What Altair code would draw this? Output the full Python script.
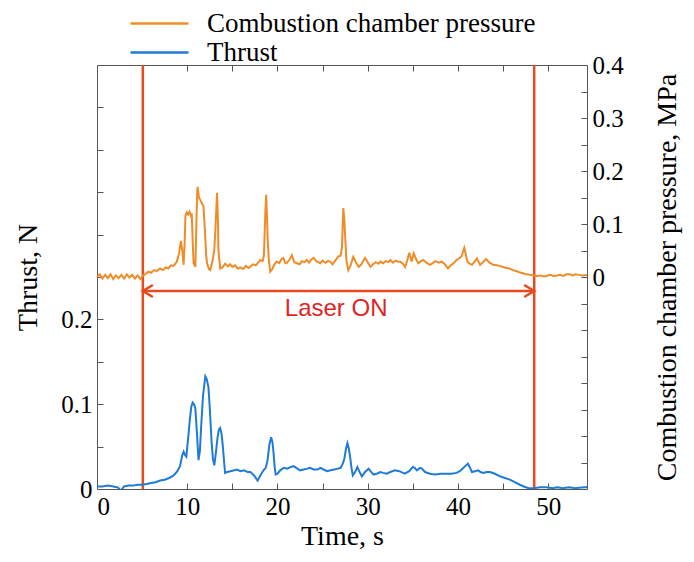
import altair as alt
import pandas as pd

# ---------------- data ----------------
thrust_time = [0, 0.6, 1.2, 1.8, 2.3, 2.65, 3.0, 3.5, 4.0, 4.5, 5.0, 5.5, 6.0, 6.5, 7.0, 7.5, 8.0, 8.5,
               8.9, 9.2, 9.45, 9.6, 9.75, 9.9, 10.1, 10.3, 10.45, 10.6, 10.75, 10.9, 11.05, 11.25, 11.4,
               11.55, 11.75, 12.0, 12.15, 12.35, 12.5, 12.7, 12.85, 13.0, 13.2, 13.35, 13.5, 13.65, 13.8,
               13.95, 14.1, 14.2, 14.4, 14.8, 15.2, 15.5, 15.9, 16.3, 16.7, 17.0, 17.4, 17.8, 18.1, 18.45,
               18.7, 18.9, 19.1, 19.3, 19.45, 19.55, 19.7, 19.8, 20.0, 20.3, 20.7, 21.1, 21.5, 21.8, 22.2,
               22.5, 22.9, 23.3, 23.6, 24.0, 24.4, 24.8, 25.1, 25.5, 25.9, 26.3, 26.7, 27.0, 27.2, 27.4,
               27.6, 27.75, 27.9, 28.05, 28.2, 28.35, 28.6, 28.85, 29.1, 29.35, 29.7, 30.1, 30.4, 30.65,
               31.0, 31.4, 31.7, 32.1, 32.5, 33.0, 33.5, 34.1, 34.6, 35.0, 35.2, 35.45, 35.8, 36.0, 36.35,
               36.9, 37.45, 38.1, 38.75, 39.3, 39.85, 40.2, 40.5, 40.8, 41.1, 41.3, 41.55, 41.9, 42.25,
               42.5, 42.8, 43.2, 43.55, 44.1, 44.65, 45.2, 45.75, 46.3, 46.85, 47.3, 47.8, 48.45, 49.1,
               49.8, 50.5, 51.0, 51.6, 52.3, 53.0, 53.4, 54.0, 54.3]
thrust_value = [0.003, 0.003, 0.004, 0.003, 0.002, -0.002, 0.003, 0.004, 0.004, 0.005, 0.005, 0.006,
                0.007, 0.008, 0.010, 0.011, 0.013, 0.016, 0.021, 0.027, 0.040, 0.044, 0.040, 0.038,
                0.060, 0.083, 0.097, 0.102, 0.100, 0.095, 0.070, 0.034, 0.045, 0.075, 0.110, 0.133,
                0.130, 0.120, 0.095, 0.055, 0.035, 0.028, 0.045, 0.060, 0.070, 0.072, 0.065, 0.050,
                0.030, 0.019, 0.020, 0.021, 0.022, 0.023, 0.021, 0.022, 0.020, 0.020, 0.016, 0.010,
                0.016, 0.022, 0.025, 0.034, 0.052, 0.061, 0.055, 0.044, 0.025, 0.017, 0.018, 0.022,
                0.025, 0.024, 0.026, 0.027, 0.024, 0.022, 0.023, 0.024, 0.025, 0.023, 0.023, 0.025,
                0.023, 0.021, 0.022, 0.023, 0.024, 0.025, 0.029, 0.035, 0.048, 0.054, 0.048, 0.038,
                0.025, 0.016, 0.020, 0.026, 0.020, 0.015, 0.020, 0.024, 0.020, 0.017, 0.018, 0.020,
                0.019, 0.018, 0.020, 0.022, 0.021, 0.018, 0.021, 0.026, 0.025, 0.022, 0.025, 0.024,
                0.020, 0.018, 0.017, 0.018, 0.018, 0.018, 0.019, 0.021, 0.024, 0.027, 0.030, 0.026,
                0.020, 0.021, 0.022, 0.020, 0.019, 0.020, 0.020, 0.018, 0.015, 0.013, 0.011, 0.008,
                0.005, 0.003, 0.001, 0.001, 0.002, 0.002, 0.001, 0.002, 0.001, 0.002, 0.001, 0.0015,
                0.002, 0.002]

pressure_time = [0, 0.3, 0.6, 0.9, 1.2, 1.5, 1.8, 2.1, 2.4, 2.7, 3.0, 3.3, 3.6, 3.9, 4.2, 4.5, 4.8, 5.1,
                 5.4, 5.7, 6.0, 6.3, 6.6, 7.0, 7.3, 7.6, 7.9, 8.2, 8.5, 8.85, 9.1, 9.3, 9.45, 9.6, 9.7,
                 9.8, 9.95, 10.1, 10.25, 10.4, 10.5, 10.6, 10.7, 10.9, 11.0, 11.1, 11.15, 11.3, 11.45,
                 11.6, 11.8, 11.95, 12.1, 12.2, 12.4, 12.55, 12.8, 13.0, 13.15, 13.3, 13.4, 13.45, 13.65,
                 13.9, 14.2, 14.5, 14.75, 15.0, 15.3, 15.6, 15.9, 16.2, 16.5, 16.8, 17.0, 17.3, 17.6,
                 17.9, 18.1, 18.35, 18.5, 18.65, 18.75, 18.85, 18.9, 19.05, 19.2, 19.4, 19.6, 19.9,
                 20.2, 20.45, 20.65, 20.85, 21.0, 21.3, 21.6, 21.85, 22.15, 22.45, 22.7, 23.0, 23.25,
                 23.5, 23.75, 24.0, 24.3, 24.5, 24.75, 25.0, 25.3, 25.6, 25.85, 26.1, 26.4, 26.75, 27.0,
                 27.15, 27.25, 27.3, 27.4, 27.5, 27.65, 27.85, 28.1, 28.4, 28.7, 29.0, 29.3, 29.7, 30.0,
                 30.3, 30.6, 30.9, 31.2, 31.4, 31.7, 32.0, 32.3, 32.5, 32.8, 33.1, 33.4, 33.6, 33.9,
                 34.15, 34.4, 34.6, 34.85, 35.1, 35.35, 35.6, 35.9, 36.15, 36.5, 36.9, 37.2, 37.5, 37.9,
                 38.2, 38.55, 38.9, 39.2, 39.5, 39.85, 40.1, 40.4, 40.7, 40.9, 41.05, 41.3, 41.55, 41.8,
                 42.1, 42.3, 42.45, 42.8, 43.1, 43.5, 43.9, 44.3, 44.6, 45.0, 45.4, 45.7, 46.1, 46.5,
                 46.8, 47.2, 47.6, 48.0, 48.45, 48.8, 49.2, 49.5, 49.8, 50.2, 50.6, 51.0, 51.3, 51.7,
                 52.0, 52.4, 52.7, 53.0, 53.4, 53.8, 54.3]
pressure_value = [0.000, 0.005, -0.003, 0.004, -0.002, 0.005, -0.004, 0.003, -0.002, 0.004, -0.003,
                  0.005, -0.001, 0.004, -0.003, 0.003, -0.004, 0.003, 0.006, 0.010, 0.008, 0.013, 0.011,
                  0.016, 0.013, 0.018, 0.016, 0.022, 0.021, 0.029, 0.045, 0.068, 0.050, 0.023, 0.060,
                  0.115, 0.122, 0.118, 0.123, 0.116, 0.120, 0.070, 0.026, 0.019, 0.090, 0.160, 0.170,
                  0.150, 0.145, 0.140, 0.133, 0.090, 0.040, 0.026, 0.015, 0.013, 0.030, 0.051, 0.100,
                  0.159, 0.110, 0.051, 0.016, 0.018, 0.025, 0.020, 0.024, 0.019, 0.022, 0.016, 0.018,
                  0.015, 0.021, 0.017, 0.020, 0.024, 0.022, 0.028, 0.032, 0.030, 0.041, 0.120, 0.155,
                  0.110, 0.076, 0.030, 0.010, 0.014, 0.022, 0.029, 0.026, 0.034, 0.036, 0.027, 0.026,
                  0.032, 0.041, 0.028, 0.026, 0.024, 0.030, 0.028, 0.032, 0.027, 0.033, 0.036, 0.030,
                  0.028, 0.026, 0.031, 0.027, 0.030, 0.029, 0.024, 0.031, 0.039, 0.040, 0.057, 0.110,
                  0.130, 0.110, 0.076, 0.030, 0.013, 0.022, 0.038, 0.028, 0.019, 0.024, 0.036, 0.028,
                  0.019, 0.024, 0.028, 0.025, 0.029, 0.026, 0.030, 0.028, 0.032, 0.027, 0.031, 0.029,
                  0.029, 0.025, 0.019, 0.032, 0.046, 0.029, 0.045, 0.034, 0.026, 0.030, 0.032, 0.027,
                  0.023, 0.026, 0.030, 0.027, 0.029, 0.024, 0.016, 0.022, 0.026, 0.032, 0.035, 0.039,
                  0.055, 0.040, 0.029, 0.025, 0.023, 0.028, 0.035, 0.028, 0.023, 0.028, 0.034, 0.027,
                  0.023, 0.022, 0.021, 0.019, 0.017, 0.016, 0.013, 0.011, 0.009, 0.007, 0.005, 0.004,
                  0.003, 0.002, 0.003, 0.001, 0.002, 0.004, 0.002, 0.003, 0.004, 0.002, 0.005, 0.005,
                  0.003, 0.005, 0.004, 0.003, 0.004]

series_names = ["Combustion chamber pressure", "Thrust"]
series_colors = ["#f08c28", "#1f7bd6"]

laser_times = [5.08, 48.45]          # s, red vertical lines
arrow_level = [-0.0264]              # MPa, double arrow height
laser_label = ["Laser ON"]
label_time = [26.5]                  # s
label_level = [0.212]                # N

x_domain = [0, 54.3]
thrust_domain = [0, 0.5]
pressure_domain = [-0.4, 0.4]
x_labels = [0, 10, 20, 30, 40, 50]
x_ticks = [5, 10, 15, 20, 25, 30, 35, 40, 45, 50]
thrust_labels = [0, 0.1, 0.2]
thrust_ticks = [0.05, 0.1, 0.15, 0.2, 0.25, 0.3, 0.35, 0.4, 0.45]
pressure_labels = [0, 0.1, 0.2, 0.3, 0.4]
pressure_ticks = [-0.35, -0.3, -0.25, -0.2, -0.15, -0.1, -0.05, 0, 0.05, 0.1, 0.15, 0.2, 0.25, 0.3, 0.35]

# ---------------- styling ----------------
SERIF = "Liberation Serif"
RED = "#e84a1f"
TEXT_RED = "#e02424"
FRAME = "#555555"
W, H = 490, 424
TICK = 6

df_t = pd.DataFrame({"time": thrust_time, "value": thrust_value, "series": series_names[1]})
df_p = pd.DataFrame({"time": pressure_time, "value": pressure_value, "series": series_names[0]})
df_laser = pd.DataFrame({"time": laser_times})
df_arrow = pd.DataFrame({"start": [laser_times[0]], "end": [laser_times[1]], "level": arrow_level})
df_head_l = pd.DataFrame({"time": [laser_times[0]], "level": arrow_level})
df_head_r = pd.DataFrame({"time": [laser_times[1]], "level": arrow_level})
df_label = pd.DataFrame({"time": label_time, "level": label_level, "text": laser_label})

x_scale = alt.Scale(domain=x_domain, nice=False, zero=False)
t_scale = alt.Scale(domain=thrust_domain, nice=False)
p_scale = alt.Scale(domain=pressure_domain, nice=False)

color_enc = alt.Color(
    "series:N",
    scale=alt.Scale(domain=series_names, range=series_colors),
    legend=alt.Legend(
        orient="none", legendX=49, legendY=-55, title=None,
        symbolType="M-2.5,0L2.5,0", symbolSize=538, symbolStrokeWidth=2.5,
        labelFont=SERIF, labelFontSize=27, labelColor="black", labelOffset=34,
        rowPadding=1, padding=0, labelLimit=0,
    ),
)

inward = dict(labels=False, ticks=True, tickSize=TICK, offset=-TICK, title=None,
              domain=False, grid=False, tickColor=FRAME, tickWidth=1)

thrust_line = alt.Chart(df_t).mark_line(strokeWidth=2, clip=True).encode(
    x=alt.X("time:Q", scale=x_scale,
            axis=alt.Axis(orient="bottom", values=x_labels, ticks=False, format="d",
                          labelPadding=5, title="Time, s", titlePadding=3)),
    y=alt.Y("value:Q", scale=t_scale,
            axis=alt.Axis(orient="left", values=thrust_labels, ticks=False, format="~g",
                          labelPadding=5, title="Thrust, N", titlePadding=18)),
    color=color_enc,
)

pressure_line = alt.Chart(df_p).mark_line(strokeWidth=2, clip=True).encode(
    x=alt.X("time:Q", scale=x_scale,
            axis=alt.Axis(orient="top", values=x_ticks, **inward)),
    y=alt.Y("value:Q", scale=p_scale,
            axis=alt.Axis(orient="right", values=pressure_labels, ticks=False, format="~g",
                          labelPadding=5, title="Combustion chamber pressure, MPa",
                          titleAngle=270, titleBaseline="top", titlePadding=30)),
    color=color_enc,
)

laser_rules = alt.Chart(df_laser).mark_rule(color=RED, strokeWidth=2.5).encode(
    x=alt.X("time:Q", scale=x_scale, axis=alt.Axis(orient="bottom", values=x_ticks, **inward)),
    y=alt.value(0),
    y2=alt.value(H),
)

arrow_line = alt.Chart(df_arrow).mark_rule(color=RED, strokeWidth=2.5).encode(
    x=alt.X("start:Q", scale=x_scale, axis=None),
    x2="end:Q",
    y=alt.Y("level:Q", scale=p_scale,
            axis=alt.Axis(orient="right", values=pressure_ticks, **inward)),
)

head_left = alt.Chart(df_head_l).mark_point(
    shape="M1,-0.6L0,0L1,0.6", filled=False, size=400, strokeWidth=2.5,
    color=RED, opacity=1, strokeJoin="miter",
).encode(
    x=alt.X("time:Q", scale=x_scale, axis=None),
    y=alt.Y("level:Q", scale=p_scale, axis=None),
)

head_right = alt.Chart(df_head_r).mark_point(
    shape="M-1,-0.6L0,0L-1,0.6", filled=False, size=400, strokeWidth=2.5,
    color=RED, opacity=1, strokeJoin="miter",
).encode(
    x=alt.X("time:Q", scale=x_scale, axis=None),
    y=alt.Y("level:Q", scale=p_scale, axis=None),
)

laser_text = alt.Chart(df_label).mark_text(
    color=TEXT_RED, font="Liberation Sans", fontSize=24, align="center", baseline="middle",
).encode(
    x=alt.X("time:Q", scale=x_scale, axis=None),
    y=alt.Y("level:Q", scale=t_scale,
            axis=alt.Axis(orient="left", values=thrust_ticks, **inward)),
    text="text:N",
)

chart = alt.layer(
    laser_rules, arrow_line, head_left, head_right, laser_text, pressure_line, thrust_line
).resolve_scale(
    y="independent"
).resolve_axis(
    x="independent", y="independent"
).properties(
    width=W, height=H,
    autosize=alt.AutoSizeParams(type="none"),
    padding={"left": 89, "top": 57, "right": 99, "bottom": 61},
).configure_view(
    stroke=FRAME, strokeWidth=1,
).configure_axis(
    grid=False, domain=False,
    labelFont=SERIF, labelFontSize=25, labelColor="black",
    titleFont=SERIF, titleFontSize=28, titleFontWeight="normal", titleColor="black",
)

chart.save("out.html", embed_options={"renderer": "svg", "actions": False})
